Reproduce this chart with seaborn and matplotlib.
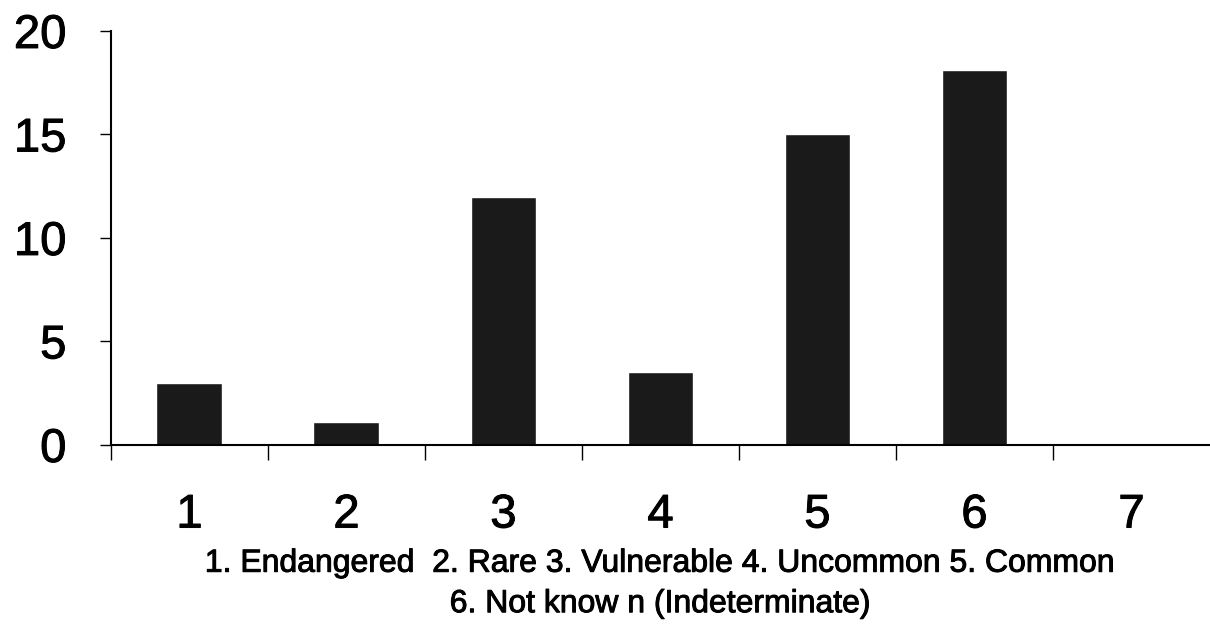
import matplotlib
matplotlib.use("Agg")
import matplotlib.pyplot as plt
import matplotlib.patheffects as pe
import seaborn as sns
import pandas as pd

# status classes and number of species in each
categories = ["1", "2", "3", "4", "5", "6", "7"]
counts = [3.0, 1.1, 12.0, 3.5, 15.0, 18.1, 0.0]
y_ticks = [0, 5, 10, 15, 20]
caption = ["1. Endangered  2. Rare 3. Vulnerable 4. Uncommon 5. Common",
           "6. Not know n (Indeterminate)"]

sns.set_style("white")
plt.rcParams["font.family"] = ["Liberation Sans", "DejaVu Sans"]
plt.rcParams["text.color"] = "black"
plt.rcParams["xtick.color"] = "black"
plt.rcParams["ytick.color"] = "black"

# scanned figure has slightly heavy type
heavy = [pe.withStroke(linewidth=0.7, foreground="black")]

df = pd.DataFrame({"category": categories, "count": counts})

fig = plt.figure(figsize=(12.1, 6.32), dpi=100)
ax = fig.add_axes([0.0917, 0.296, 0.9083, 0.655])

sns.barplot(data=df, x="category", y="count", color="#1a1a1a",
            saturation=1, width=0.42, ax=ax)

ax.set_xlim(-0.5, 6.5)
ax.set_ylim(0, 20)
ax.set_yticks(y_ticks)
ax.set_xlabel("")
ax.set_ylabel("")

for side in ["top", "right"]:
    ax.spines[side].set_visible(False)
for side in ["left", "bottom"]:
    ax.spines[side].set_color("black")
    ax.spines[side].set_linewidth(1.5)

ax.tick_params(axis="y", left=True, direction="out", length=8, width=1,
               labelsize=34, pad=24, colors="black")
ax.tick_params(axis="x", which="major", bottom=True, length=0,
               labelsize=34, pad=35, colors="black")
ax.set_xticks([i - 0.5 for i in range(7)], minor=True)
ax.tick_params(axis="x", which="minor", bottom=True, direction="out",
               length=11, width=1, colors="black")

for lbl in ax.get_xticklabels() + ax.get_yticklabels():
    lbl.set_path_effects(heavy)

fig.text(0.546, 0.108, caption[0], ha="center", va="center", fontsize=23,
         path_effects=heavy)
fig.text(0.546, 0.044, caption[1], ha="center", va="center", fontsize=23,
         path_effects=heavy)

fig.savefig("out.png", dpi=100)
